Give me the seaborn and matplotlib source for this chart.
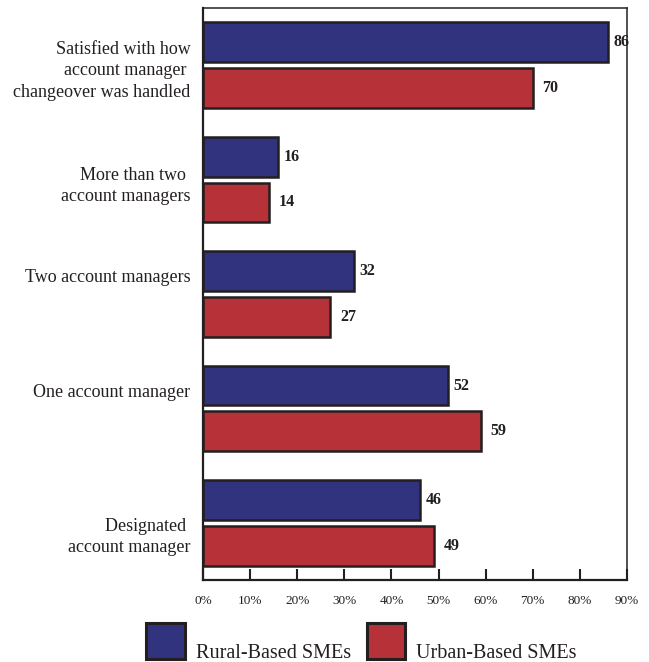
import matplotlib
matplotlib.use("Agg")
import matplotlib.pyplot as plt
import matplotlib.transforms as mtransforms
from matplotlib.patches import Patch
import seaborn as sns
import pandas as pd

categories = [
    "Satisfied with how\naccount manager \nchangeover was handled",
    "More than two \naccount managers",
    "Two account managers",
    "One account manager",
    "Designated \naccount manager",
]
rural = [86, 16, 32, 52, 46]
urban = [70, 14, 27, 59, 49]
series_names = ["Rural-Based SMEs", "Urban-Based SMEs"]
x_ticks = [0, 10, 20, 30, 40, 50, 60, 70, 80, 90]
x_tick_labels = [f"{t}%" for t in x_ticks]

BLUE = "#31337E"
RED = "#B63238"
EDGE = "#231F20"
TEXT = "#231F20"

df = pd.DataFrame({
    "category": categories * 2,
    "value": rural + urban,
    "series": [series_names[0]] * len(categories) + [series_names[1]] * len(categories),
})

sns.set_theme(style="white")
plt.rcParams["font.family"] = ["Liberation Serif", "DejaVu Serif"]

fig = plt.figure(figsize=(6.49, 6.62), dpi=100)
ax = fig.add_axes([203 / 649, 1 - 580 / 662, (627 - 203) / 649, (580 - 8) / 662])

sns.barplot(
    data=df, y="category", x="value", hue="series", orient="h",
    palette=[BLUE, RED], edgecolor=EDGE, linewidth=1.8,
    width=0.8, gap=0.13, ax=ax, legend=False, saturation=1,
)

for cont, pad in zip(ax.containers, [4, 7]):
    ax.bar_label(cont, fmt="%d", padding=pad, fontsize=11.5, fontweight="bold",
                 color=TEXT, family=["Liberation Serif"])

ax.set_xlim(0, 90)
ax.set_xticks(x_ticks)
ax.set_xticklabels(x_tick_labels, fontsize=9.5, color=TEXT)
ax.tick_params(axis="x", direction="in", length=8, width=1.5, color=EDGE, pad=11, bottom=True)
ax.tick_params(axis="y", length=0, pad=9, labelsize=13, labelcolor=TEXT)
ax.set_xlabel("")
ax.set_ylabel("")

for lab in ax.get_yticklabels():
    lab.set_linespacing(1.35)

# small vertical offsets of category labels (pixels, positive = down)
offsets_px = [1.5, 2, -18, -18, 10]
for lab, dy in zip(ax.get_yticklabels(), offsets_px):
    lab.set_transform(lab.get_transform() +
                      mtransforms.ScaledTranslation(0, -dy / 100, fig.dpi_scale_trans))

for side, sp in ax.spines.items():
    sp.set_visible(True)
    sp.set_color(EDGE)
    sp.set_linewidth(1.6 if side in ("left", "bottom") else 1.1)

handles = [Patch(facecolor=BLUE, edgecolor=EDGE, linewidth=2.2),
           Patch(facecolor=RED, edgecolor=EDGE, linewidth=2.2)]
leg = fig.legend(handles, series_names, loc="lower center", bbox_to_anchor=(0.557, 0.0),
                 ncol=2, frameon=False, fontsize=14.5, handlelength=1.9, handleheight=2.35,
                 handletextpad=0.55, columnspacing=0.8, borderpad=0.1, borderaxespad=0.05,
                 labelcolor=TEXT)
for t in leg.get_texts():
    t.set_transform(t.get_transform() +
                    mtransforms.ScaledTranslation(0, -11 / 100, fig.dpi_scale_trans))

fig.savefig("out.png", dpi=100)
